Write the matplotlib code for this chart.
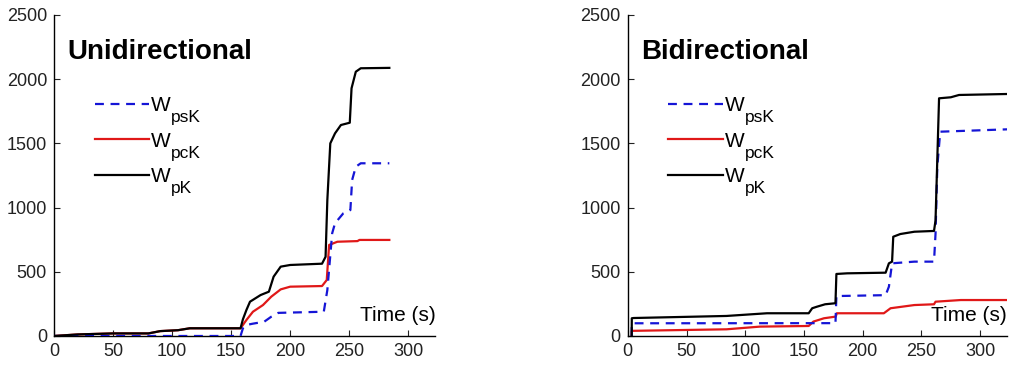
import matplotlib
matplotlib.use("Agg")
import matplotlib.pyplot as plt

plt.rcParams.update({
    'font.family': ['Liberation Sans', 'DejaVu Sans'],
    'axes.linewidth': 1.0,
    'xtick.direction': 'in',
    'ytick.direction': 'in',
    'xtick.major.size': 4,
    'ytick.major.size': 4,
    'xtick.labelsize': 13,
    'ytick.labelsize': 13,
    'xtick.color': '#222222',
    'ytick.color': '#222222',
})

C_PS = '#1515d6'   # blue dashed
C_PC = '#e01818'   # red
C_P = '#000000'    # black

SUBS = ['psK', 'pcK', 'pK']

# ---- Unidirectional ----------------------------------------------------
uni_t_p = [0, 20, 50, 80, 90, 105, 115, 158, 160, 163, 166, 175, 182, 186,
           192, 200, 227, 230, 231.5, 234, 238, 243, 250.5, 252, 255.6,
           259.8, 284]
uni_p = [0, 12, 20, 20, 38, 45, 60, 60, 130, 203, 267, 319, 345, 462,
         540, 553, 563, 617, 1059, 1500, 1578, 1643, 1661, 1929, 2058,
         2085, 2088]

uni_t_pc = [0, 20, 50, 80, 90, 105, 115, 158, 163, 168.5, 177, 184, 192,
            200, 227, 231, 233, 240, 257, 258.7, 284]
uni_pc = [0, 12, 20, 20, 38, 45, 60, 60, 125, 189, 241, 306, 363,
          384, 389, 436, 709, 734, 739, 748, 748]

uni_t_ps = [0, 158, 160, 163, 168.5, 178, 184, 190, 228.5, 231.5, 235.6,
            238, 245, 251, 252.5, 255.6, 259.8, 284]
uni_ps = [0, 0, 60, 86, 96, 111, 150, 180, 189, 358, 800, 878, 955, 981,
          1215, 1318, 1345, 1345]

# ---- Bidirectional -----------------------------------------------------
bi_t_p = [3.3, 3.4, 5, 84, 118.5, 154, 157, 161, 168, 176.8, 177.6, 186.7,
          219.5, 222.3, 225, 226, 232, 244, 260.7, 262, 265, 275, 282, 325]
bi_p = [0, 138, 140, 156, 177, 177, 216, 228, 247, 255, 483, 488,
        493, 566, 579, 773, 794, 812, 818, 900, 1851, 1859, 1877, 1885]

bi_t_pc = [3.3, 3.4, 84, 112.5, 154, 158, 167, 177, 178, 218, 223.7, 244,
           260.7, 262, 283.5, 325]
bi_pc = [0, 40, 52, 73, 78, 112, 138, 151, 177, 177, 216, 241,
         247, 267, 280, 280]

bi_t_ps = [3.3, 3.4, 176.8, 177.6, 219.5, 222.3, 225, 244, 260.7, 262,
           263.5, 266, 325]
bi_ps = [0, 99, 100, 311, 318, 384, 566, 579, 579, 797, 1318, 1591, 1610]

XTICKS = [0, 50, 100, 150, 200, 250, 300]
YTICKS = [0, 500, 1000, 1500, 2000, 2500]

fig = plt.figure(figsize=(10.09, 3.67), dpi=100)
ax1 = fig.add_axes([0.0535, 0.0845, 0.378, 0.8747])
ax2 = fig.add_axes([0.6222, 0.0845, 0.376, 0.8747])

panels = [
    (ax1, 'Unidirectional', uni_t_ps, uni_ps, uni_t_pc, uni_pc, uni_t_p, uni_p),
    (ax2, 'Bidirectional', bi_t_ps, bi_ps, bi_t_pc, bi_pc, bi_t_p, bi_p),
]

for ax, title, tps, ps, tpc, pc, tp, p in panels:
    ax.plot(tps, ps, color=C_PS, lw=1.6, linestyle=(0, (4, 3)),
            label='W', zorder=3)
    ax.plot(tpc, pc, color=C_PC, lw=1.6, label='W', zorder=2)
    ax.plot(tp, p, color=C_P, lw=1.6, label='W', zorder=4)

    ax.set_xlim(0, 323)
    ax.set_ylim(0, 2500)
    ax.set_xticks(XTICKS)
    ax.set_yticks(YTICKS)
    ax.spines['top'].set_visible(False)
    ax.spines['right'].set_visible(False)
    ax.tick_params(pad=5)

    ax.text(0.035, 0.885, title, transform=ax.transAxes, fontsize=20,
            fontweight='bold', ha='left', va='center')
    ax.text(1.0, 0.065, 'Time (s)', transform=ax.transAxes, fontsize=15,
            ha='right', va='center')

    leg = ax.legend(loc='upper left', bbox_to_anchor=(0.085, 0.774),
                    frameon=False, fontsize=15, handlelength=2.6,
                    handletextpad=0.12, labelspacing=0.8, borderaxespad=0)
    # subscripts next to each "W" (drawn after the legend)
    for txt, sub in zip(leg.get_texts(), SUBS):
        ax.annotate(sub, xy=(1.0, 0.0), xycoords=txt,
                    xytext=(0, 3.5), textcoords='offset points',
                    fontsize=12.5, ha='left', va='top', zorder=10)

fig.canvas.draw()
fig.savefig('out.png', dpi=100, facecolor='white')
